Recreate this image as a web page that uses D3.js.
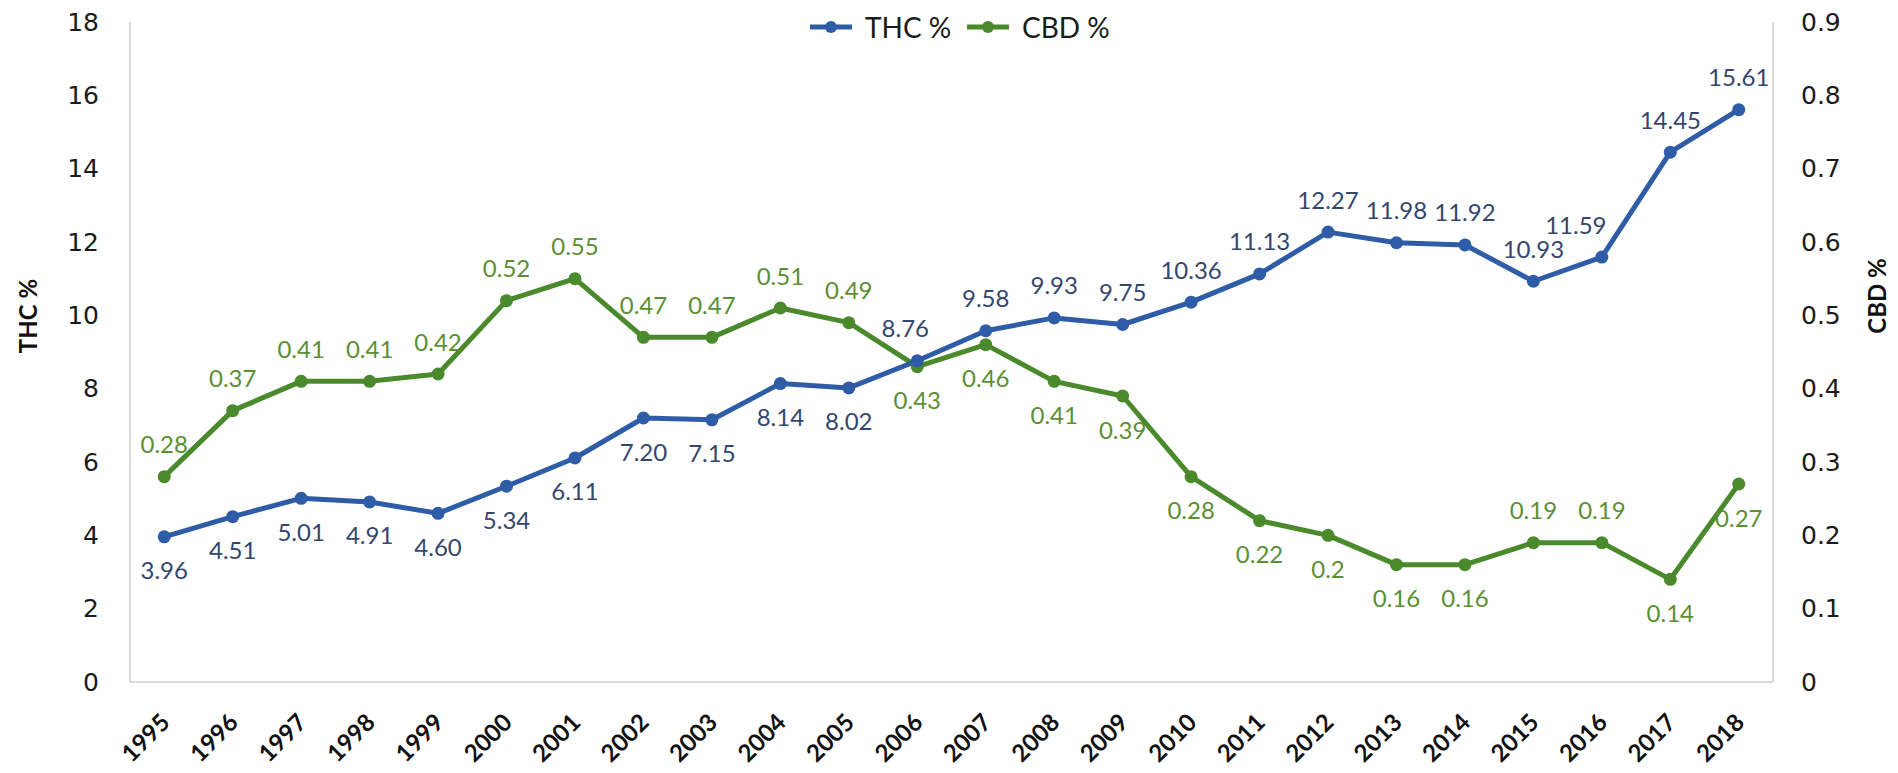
<!DOCTYPE html>
<html>
<head>
<meta charset="utf-8">
<script src="https://cdn.jsdelivr.net/npm/d3@7/dist/d3.min.js"></script>
<style>
  html, body { margin: 0; padding: 0; background: #ffffff; }
  svg { display: block; }
</style>
</head>
<body>
<svg id="chart" width="1898" height="773"></svg>
<script>
// Potency of seized cannabis samples by year
const years = ["1995","1996","1997","1998","1999","2000","2001","2002","2003","2004","2005","2006",
               "2007","2008","2009","2010","2011","2012","2013","2014","2015","2016","2017","2018"];
const thcValues = [3.96, 4.51, 5.01, 4.91, 4.60, 5.34, 6.11, 7.20, 7.15, 8.14, 8.02, 8.76,
                   9.58, 9.93, 9.75, 10.36, 11.13, 12.27, 11.98, 11.92, 10.93, 11.59, 14.45, 15.61];
const cbdValues = [0.28, 0.37, 0.41, 0.41, 0.42, 0.52, 0.55, 0.47, 0.47, 0.51, 0.49, 0.43,
                   0.46, 0.41, 0.39, 0.28, 0.22, 0.20, 0.16, 0.16, 0.19, 0.19, 0.14, 0.27];
const thcTicks = [0, 2, 4, 6, 8, 10, 12, 14, 16, 18];
const cbdTicks = [0, 0.1, 0.2, 0.3, 0.4, 0.5, 0.6, 0.7, 0.8, 0.9];
const seriesNames = ["THC %", "CBD %"];

const svg = d3.select("#chart");
const plotLeft = 130, plotRight = 1773, plotTop = 22, plotBottom = 682;

const thcColor = "#2f5ca6", cbdColor = "#4a8a2c";
const thcLabelColor = "#34466e", cbdLabelColor = "#5b8f34";
const axisGray = "#d9d9d9";

const x = d3.scaleBand().domain(years).range([plotLeft, plotRight]).paddingInner(0).paddingOuter(0);
const yL = d3.scaleLinear().domain([0, 18]).range([plotBottom, plotTop]);
const yR = d3.scaleLinear().domain([0, 0.9]).range([plotBottom, plotTop]);
const cx = d => x(d) + x.bandwidth() / 2;

// Axis lines (left, right value axes and category baseline)
const axisLines = svg.append("g").attr("stroke", axisGray).attr("stroke-width", 2);
axisLines.append("line").attr("x1", plotLeft).attr("x2", plotLeft).attr("y1", plotTop).attr("y2", plotBottom);
axisLines.append("line").attr("x1", plotRight).attr("x2", plotRight).attr("y1", plotTop).attr("y2", plotBottom);
axisLines.append("line").attr("x1", plotLeft).attr("x2", plotRight).attr("y1", plotBottom).attr("y2", plotBottom);

// Left axis
const leftAxis = svg.append("g")
  .attr("transform", `translate(${plotLeft},0)`)
  .call(d3.axisLeft(yL).tickValues(thcTicks).tickSize(0).tickPadding(31).tickFormat(d3.format("d")));
leftAxis.select(".domain").remove();
leftAxis.selectAll("text")
  .attr("font-family", "DejaVu Sans, Verdana, sans-serif")
  .attr("font-size", 25).attr("fill", "#1a1a1a");

// Right axis
const rightAxis = svg.append("g")
  .attr("transform", `translate(${plotRight},0)`)
  .call(d3.axisRight(yR).tickValues(cbdTicks).tickSize(0).tickPadding(28).tickFormat(d => d === 0 ? "0" : d3.format(".1f")(d)));
rightAxis.select(".domain").remove();
rightAxis.selectAll("text")
  .attr("font-family", "DejaVu Sans, Verdana, sans-serif")
  .attr("font-size", 25).attr("fill", "#1a1a1a");

// Category axis with rotated year labels
const xAxis = svg.append("g")
  .attr("transform", `translate(0,${plotBottom})`)
  .call(d3.axisBottom(x).tickSize(0).tickPadding(0));
xAxis.select(".domain").remove();
xAxis.selectAll("text")
  .attr("font-family", "Lato, 'Open Sans', sans-serif")
  .attr("font-weight", "bold")
  .attr("font-size", 24)
  .attr("fill", "#111")
  .attr("text-anchor", "end")
  .attr("dy", 0)
  .attr("y", 0).attr("x", 0)
  .attr("transform", "translate(7,42) rotate(-45)");

// Axis titles
svg.append("text")
  .attr("transform", "translate(37,316) rotate(-90)")
  .attr("text-anchor", "middle")
  .attr("font-family", "Lato, sans-serif").attr("font-weight", "bold")
  .attr("font-size", 24).attr("fill", "#111")
  .text("THC %");
svg.append("text")
  .attr("transform", "translate(1886,296) rotate(-90)")
  .attr("text-anchor", "middle")
  .attr("font-family", "Lato, sans-serif").attr("font-weight", "bold")
  .attr("font-size", 24).attr("fill", "#111")
  .text("CBD %");

// Series lines and markers
const thcLine = d3.line().x((d, i) => cx(years[i])).y(d => yL(d));
const cbdLine = d3.line().x((d, i) => cx(years[i])).y(d => yR(d));

svg.append("path").datum(cbdValues)
  .attr("d", cbdLine).attr("fill", "none")
  .attr("stroke", cbdColor).attr("stroke-width", 5).attr("stroke-linejoin", "round");
svg.append("path").datum(thcValues)
  .attr("d", thcLine).attr("fill", "none")
  .attr("stroke", thcColor).attr("stroke-width", 5).attr("stroke-linejoin", "round");

svg.append("g").selectAll("circle").data(cbdValues).join("circle")
  .attr("cx", (d, i) => cx(years[i])).attr("cy", d => yR(d)).attr("r", 6.5).attr("fill", cbdColor);
svg.append("g").selectAll("circle").data(thcValues).join("circle")
  .attr("cx", (d, i) => cx(years[i])).attr("cy", d => yL(d)).attr("r", 6.5).attr("fill", thcColor);

// Data labels: THC below the line until 2005, above afterwards;
// CBD above until 2005, below afterwards except 2015–2016
const thcAbove = i => i >= 11;
const cbdAbove = i => i <= 10 || i === 20 || i === 21;
const off = 33;
// a couple of THC labels sit slightly left to stay clear of the steep segments
const thcNudge = { "2006": -12, "2016": -26 };

svg.append("g").selectAll("text").data(thcValues).join("text")
  .attr("x", (d, i) => cx(years[i]) + (thcNudge[years[i]] || 0))
  .attr("y", (d, i) => yL(d) + (thcAbove(i) ? -off : off))
  .attr("dominant-baseline", "central")
  .attr("text-anchor", "middle")
  .attr("font-family", "Lato, 'Open Sans', sans-serif").attr("font-size", 24)
  .attr("fill", thcLabelColor)
  .text(d => d.toFixed(2));

svg.append("g").selectAll("text").data(cbdValues).join("text")
  .attr("x", (d, i) => cx(years[i]))
  .attr("y", (d, i) => yR(d) + (cbdAbove(i) ? -off : off))
  .attr("dominant-baseline", "central")
  .attr("text-anchor", "middle")
  .attr("font-family", "Lato, 'Open Sans', sans-serif").attr("font-size", 24)
  .attr("fill", cbdLabelColor)
  .text(d => String(d));

// Legend
const legend = svg.append("g").attr("transform", "translate(810,27)");
const legendColors = [thcColor, cbdColor];
const legendX = [0, 157];
seriesNames.forEach((name, i) => {
  const g = legend.append("g").attr("transform", `translate(${legendX[i]},0)`);
  g.append("line").attr("x1", 0).attr("x2", 42).attr("y1", 0).attr("y2", 0)
    .attr("stroke", legendColors[i]).attr("stroke-width", 5);
  g.append("circle").attr("cx", 21).attr("cy", 0).attr("r", 6).attr("fill", legendColors[i]);
  g.append("text").attr("x", 55).attr("y", 0).attr("dominant-baseline", "central")
    .attr("font-family", "Lato, sans-serif").attr("font-size", 28).attr("fill", "#1a1a1a")
    .text(name);
});
</script>
</body>
</html>
